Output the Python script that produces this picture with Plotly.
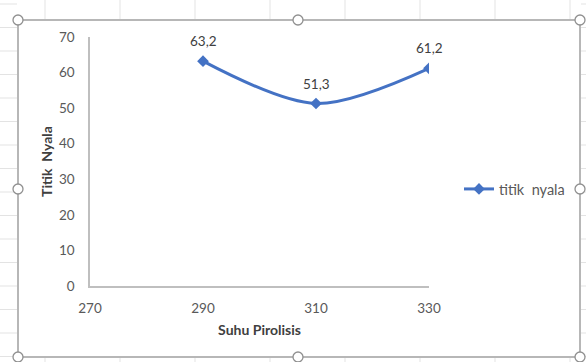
import plotly.graph_objects as go

# ---- data ----
suhu = [290, 310, 330]
titik_nyala = [63.2, 51.3, 61.2]
series_name = "titik  nyala"
x_title = "Suhu Pirolisis"
y_title = "Titik  Nyala"

W, H = 586, 362
L, R, T, B = 90, 157, 37, 76
PW, PH = W - L - R, H - T - B

def px(x):
    return (x - L) / PW

def py(y):
    return (H - B - y) / PH

blue = "#4472C4"
font_fam = "Lato, 'Open Sans', sans-serif"

fig = go.Figure()
fig.add_trace(go.Scatter(
    x=suhu, y=titik_nyala, mode="lines+markers", name=series_name,
    line=dict(color=blue, width=3, shape="spline", smoothing=0.9),
    marker=dict(symbol="diamond", size=9, color=blue),
))

for xv, yv in zip(suhu, titik_nyala):
    fig.add_annotation(x=xv, y=yv, text=f"{yv:.1f}".replace(".", ","),
                       showarrow=False, yshift=20,
                       font=dict(size=13.5, color="#404040", family=font_fam))

shapes = []
# spreadsheet gridlines outside the chart frame
for gx in range(45, W, 75):
    shapes.append(dict(type="line", xref="paper", yref="paper",
                       x0=px(gx), x1=px(gx), y0=py(0), y1=py(19),
                       line=dict(color="#E3E3E3", width=1)))
    shapes.append(dict(type="line", xref="paper", yref="paper",
                       x0=px(gx), x1=px(gx), y0=py(358), y1=py(362),
                       line=dict(color="#E3E3E3", width=1)))
gy = 4.0
while gy < H:
    shapes.append(dict(type="line", xref="paper", yref="paper",
                       x0=px(0), x1=px(17), y0=py(gy), y1=py(gy),
                       line=dict(color="#E3E3E3", width=1)))
    shapes.append(dict(type="line", xref="paper", yref="paper",
                       x0=px(581), x1=px(586), y0=py(gy), y1=py(gy),
                       line=dict(color="#E3E3E3", width=1)))
    gy += 23.5
# chart frame
shapes.append(dict(type="rect", xref="paper", yref="paper",
                   x0=px(18), x1=px(580), y0=py(357), y1=py(20),
                   line=dict(color="#A0A0A0", width=1.5), layer="below"))
# selection handles
for hx, hy in [(18, 20), (298, 20), (580, 20), (18, 189), (580, 189),
               (18, 357), (298, 357), (580, 357)]:
    shapes.append(dict(type="circle", xref="paper", yref="paper",
                       x0=px(hx - 5), x1=px(hx + 5), y0=py(hy + 5), y1=py(hy - 5),
                       line=dict(color="#909090", width=1.3), fillcolor="white"))

fig.update_layout(
    width=W, height=H,
    margin=dict(l=L, r=R, t=T, b=B),
    paper_bgcolor="white", plot_bgcolor="white",
    font=dict(family=font_fam, size=13.5, color="#595959"),
    shapes=shapes,
    showlegend=True,
    legend=dict(x=px(459), y=py(189), xanchor="left", yanchor="middle",
                font=dict(size=14.5, color="#595959", family=font_fam),
                bgcolor="rgba(0,0,0,0)"),
    xaxis=dict(range=[270, 330], dtick=20, tick0=270, showgrid=False, zeroline=False,
               showline=True, linecolor="#BFBFBF", linewidth=1.5,
               ticks="outside", ticklen=9, tickcolor="rgba(0,0,0,0)",
               tickfont=dict(size=13.5, color="#595959"),
               title=dict(text=f"<b>{x_title}</b>", standoff=10,
                          font=dict(size=14, color="#404040"))),
    yaxis=dict(range=[0, 70], dtick=10, showgrid=False, zeroline=False,
               showline=True, linecolor="#BFBFBF", linewidth=1.5,
               ticks="outside", ticklen=11, tickcolor="rgba(0,0,0,0)",
               tickfont=dict(size=13.5, color="#595959"),
               title=dict(text=f"<b>{y_title}</b>", standoff=3,
                          font=dict(size=14, color="#404040"))),
)

fig.write_html("out.html")
